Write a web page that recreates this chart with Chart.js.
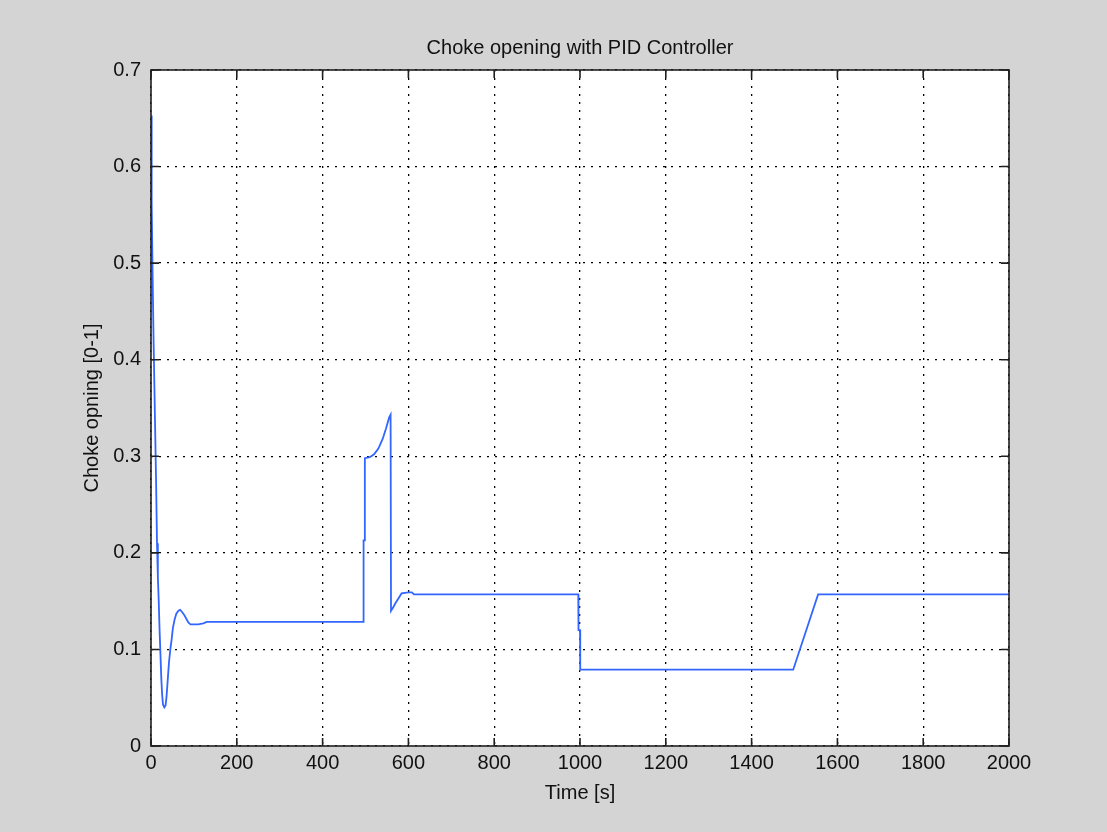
<!DOCTYPE html>
<html>
<head>
<meta charset="utf-8">
<script src="https://cdn.jsdelivr.net/npm/chart.js@4/dist/chart.umd.min.js"></script>
<style>
    html, body { margin: 0; padding: 0; background: #d4d4d4; }
    #chokeChart { display: block; }
</style>
</head>
<body>
<canvas id="chokeChart" width="1107" height="832"></canvas>
<script>
'use strict';

// Time axis [s] of the simulation samples
var timeSeconds = [0, 1, 2, 4, 6, 8, 10, 12, 14, 16, 18, 20, 22, 24, 26, 28, 31, 34, 36, 38, 40, 42, 45, 48, 51, 55, 59, 64, 68, 72, 77, 82, 87, 92, 110, 122, 130,
    495, 495.5, 498, 498.5, 510, 520, 530, 540, 548, 555, 558.5, 559.5, 565, 570, 577, 584, 600, 608, 613,
    996, 996.5, 1000, 1000.5, 1497, 1555, 2000];

// Choke opening [0-1]
var chokeOpening = [0.653, 0.62, 0.563, 0.48, 0.42, 0.37, 0.32, 0.27, 0.21, 0.175, 0.15, 0.12, 0.095, 0.07, 0.053, 0.043, 0.040, 0.042, 0.050, 0.062, 0.075, 0.087, 0.100, 0.110, 0.122, 0.131, 0.137, 0.140, 0.141, 0.139, 0.136, 0.132, 0.128, 0.126, 0.126, 0.127, 0.1285,
    0.1285, 0.213, 0.213, 0.298, 0.299, 0.302, 0.308, 0.318, 0.329, 0.340, 0.343, 0.140, 0.144, 0.148, 0.153, 0.158, 0.159, 0.159, 0.157,
    0.157, 0.120, 0.120, 0.079, 0.079, 0.157, 0.157];

var xTickValues = [0, 200, 400, 600, 800, 1000, 1200, 1400, 1600, 1800, 2000];
var xTickLabels = ['0', '200', '400', '600', '800', '1000', '1200', '1400', '1600', '1800', '2000'];
var yTickValues = [0, 0.1, 0.2, 0.3, 0.4, 0.5, 0.6, 0.7];
var yTickLabels = ['0', '0.1', '0.2', '0.3', '0.4', '0.5', '0.6', '0.7'];

var FONT = 'Liberation Sans, Arial, Helvetica, sans-serif';

// Build the point list from the two arrays
var points = [];
for (var i = 0; i < timeSeconds.length; i++) {
    points.push({ x: timeSeconds[i], y: chokeOpening[i] });
}

// White plot area, inward tick marks on all four sides and the axes box
var matlabAxes = {
    id: 'matlabAxes',
    beforeDraw: function (chart) {
        var a = chart.chartArea;
        var ctx = chart.ctx;
        ctx.save();
        ctx.fillStyle = '#ffffff';
        ctx.fillRect(a.left, a.top, a.right - a.left, a.bottom - a.top);
        ctx.restore();
    },
    afterDraw: function (chart) {
        var a = chart.chartArea;
        var ctx = chart.ctx;
        var len = 8;
        ctx.save();
        ctx.strokeStyle = '#202020';
        ctx.lineWidth = 1.6;
        ctx.beginPath();
        xTickValues.forEach(function (v) {
            var px = chart.scales.x.getPixelForValue(v);
            ctx.moveTo(px, a.bottom);
            ctx.lineTo(px, a.bottom - len);
            ctx.moveTo(px, a.top);
            ctx.lineTo(px, a.top + len);
        });
        yTickValues.forEach(function (v) {
            var py = chart.scales.y.getPixelForValue(v);
            ctx.moveTo(a.left, py);
            ctx.lineTo(a.left + len, py);
            ctx.moveTo(a.right, py);
            ctx.lineTo(a.right - len, py);
        });
        ctx.stroke();
        ctx.strokeRect(a.left, a.top, a.right - a.left, a.bottom - a.top);
        ctx.restore();
    }
};

var chart = new Chart(document.getElementById('chokeChart'), {
    type: 'line',
    data: {
        datasets: [{
            label: 'Choke opening',
            data: points,
            borderColor: '#3366ff',
            borderWidth: 1.8,
            pointRadius: 0,
            tension: 0,
            fill: false
        }]
    },
    options: {
        responsive: false,
        devicePixelRatio: 1,
        animation: false,
        layout: {
            padding: { left: 0, right: 98, top: 0, bottom: 0 }
        },
        plugins: {
            legend: { display: false },
            tooltip: { enabled: false },
            title: {
                display: true,
                fullSize: false,
                text: 'Choke opening with PID Controller',
                color: '#111111',
                font: { family: FONT, size: 20, weight: 'normal' },
                padding: { top: 36, bottom: 10 }
            }
        },
        scales: {
            x: {
                type: 'linear',
                min: 0,
                max: 2000,
                afterFit: function (scale) { scale.height = 86; },
                afterBuildTicks: function (scale) {
                    scale.ticks = xTickValues.map(function (v) { return { value: v }; });
                },
                ticks: {
                    padding: 5,
                    maxRotation: 0,
                    color: '#111111',
                    font: { family: FONT, size: 20 },
                    callback: function (value) {
                        return xTickLabels[xTickValues.indexOf(value)];
                    }
                },
                grid: {
                    color: '#000000',
                    lineWidth: 1.3,
                    drawTicks: false
                },
                border: { display: false, dash: [2, 6] },
                title: {
                    display: true,
                    text: 'Time [s]',
                    color: '#111111',
                    font: { family: FONT, size: 20 },
                    padding: { top: 0, bottom: 27 }
                }
            },
            y: {
                min: 0,
                max: 0.7,
                afterFit: function (scale) { scale.width = 151; },
                afterBuildTicks: function (scale) {
                    scale.ticks = yTickValues.map(function (v) { return { value: v }; });
                },
                ticks: {
                    padding: 10,
                    color: '#111111',
                    font: { family: FONT, size: 20 },
                    callback: function (value, index) {
                        return yTickLabels[index];
                    }
                },
                grid: {
                    color: '#000000',
                    lineWidth: 1.3,
                    drawTicks: false
                },
                border: { display: false, dash: [2, 6] },
                title: {
                    display: true,
                    text: 'Choke opning [0-1]',
                    color: '#111111',
                    font: { family: FONT, size: 20 },
                    padding: { top: 80, bottom: 0 }
                }
            }
        }
    },
    plugins: [matlabAxes]
});
</script>
</body>
</html>
